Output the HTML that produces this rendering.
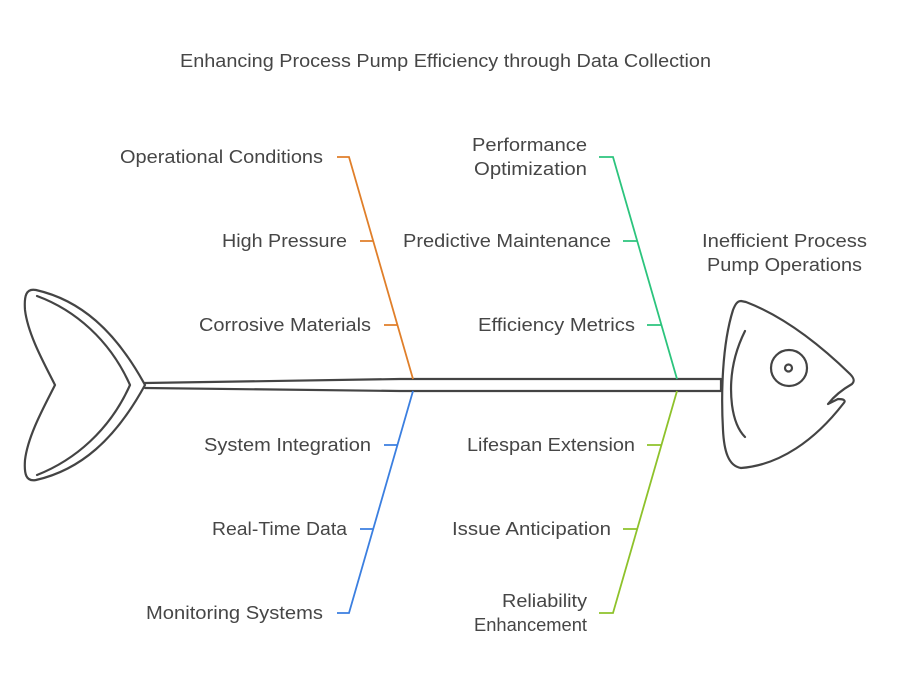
<!DOCTYPE html>
<html><head><meta charset="utf-8"><style>
html,body{margin:0;padding:0;background:#fff;}
svg{display:block;}
text{font-family:"Liberation Sans",sans-serif;fill:#464646;font-size:18px;lengthAdjust:spacingAndGlyphs;}
</style></head><body>
<svg width="902" height="687" viewBox="0 0 902 687" xmlns="http://www.w3.org/2000/svg">
<text x="180" y="67" textLength="531" lengthAdjust="spacingAndGlyphs">Enhancing Process Pump Efficiency through Data Collection</text>

<!-- spine -->
<g fill="none" stroke="#444" stroke-width="2.2" stroke-linejoin="round" stroke-linecap="round">
<path d="M145 383 L400 379 L721 379 L721 391 L400 391 L145 388"/>
<!-- tail -->
<path d="M145 385 C115 330 80 300 36 290 C26 288 24 296 25 310 C28 335 45 365 55 385 C45 405 28 435 25 460 C24 474 26 482 36 480 C80 470 115 440 145 385 Z"/>
<path d="M37 296 C75 310 110 340 130 385 C110 430 75 460 37 475"/>
<!-- head -->
<path d="M741 301 C737 301 735 305 733 310 C722 345 721 395 723 430 C724 450 728 466 741 468 C780 465 815 440 843 404 C847 400 843 399 838 399 L828 404 C835 395 845 388 852 384 C855 381 854 378 850 374 C815 340 780 315 746 302 Z"/>
<path d="M745 331 C733 355 729 380 732 405 C734 420 738 430 745 437"/>
<circle cx="789" cy="368" r="18"/>
<circle cx="788.5" cy="368" r="3.5"/>
</g>

<!-- branches -->
<g fill="none" stroke-width="1.8">
<path d="M337 157 L349 157 L413 379 M360 241 L373 241 M384 325 L397 325" stroke="#e07f2a"/>
<path d="M413 391 L349 613 L337 613 M360 529 L373 529 M384 445 L397 445" stroke="#3b7fe0"/>
<path d="M599 157 L613 157 L677 379 M623 241 L637 241 M647 325 L661 325" stroke="#2cc47d"/>
<path d="M677 391 L613 613 L599 613 M623 529 L637 529 M647 445 L661 445" stroke="#8ec22b"/>
</g>

<text x="120" y="163" textLength="203" lengthAdjust="spacingAndGlyphs">Operational Conditions</text>
<text x="222" y="247" textLength="125" lengthAdjust="spacingAndGlyphs">High Pressure</text>
<text x="199" y="331" textLength="172" lengthAdjust="spacingAndGlyphs">Corrosive Materials</text>
<text x="204" y="451" textLength="167" lengthAdjust="spacingAndGlyphs">System Integration</text>
<text x="212" y="535" textLength="135" lengthAdjust="spacingAndGlyphs">Real-Time Data</text>
<text x="146" y="619" textLength="177" lengthAdjust="spacingAndGlyphs">Monitoring Systems</text>

<text x="472" y="151" textLength="115" lengthAdjust="spacingAndGlyphs">Performance</text>
<text x="474" y="175" textLength="113" lengthAdjust="spacingAndGlyphs">Optimization</text>
<text x="403" y="247" textLength="208" lengthAdjust="spacingAndGlyphs">Predictive Maintenance</text>
<text x="478" y="331" textLength="157" lengthAdjust="spacingAndGlyphs">Efficiency Metrics</text>
<text x="467" y="451" textLength="168" lengthAdjust="spacingAndGlyphs">Lifespan Extension</text>
<text x="452" y="535" textLength="159" lengthAdjust="spacingAndGlyphs">Issue Anticipation</text>
<text x="502" y="607" textLength="85" lengthAdjust="spacingAndGlyphs">Reliability</text>
<text x="474" y="631" textLength="113" lengthAdjust="spacingAndGlyphs">Enhancement</text>

<text x="702" y="247" textLength="165" lengthAdjust="spacingAndGlyphs">Inefficient Process</text>
<text x="707" y="271" textLength="155" lengthAdjust="spacingAndGlyphs">Pump Operations</text>
</svg>
</body></html>
